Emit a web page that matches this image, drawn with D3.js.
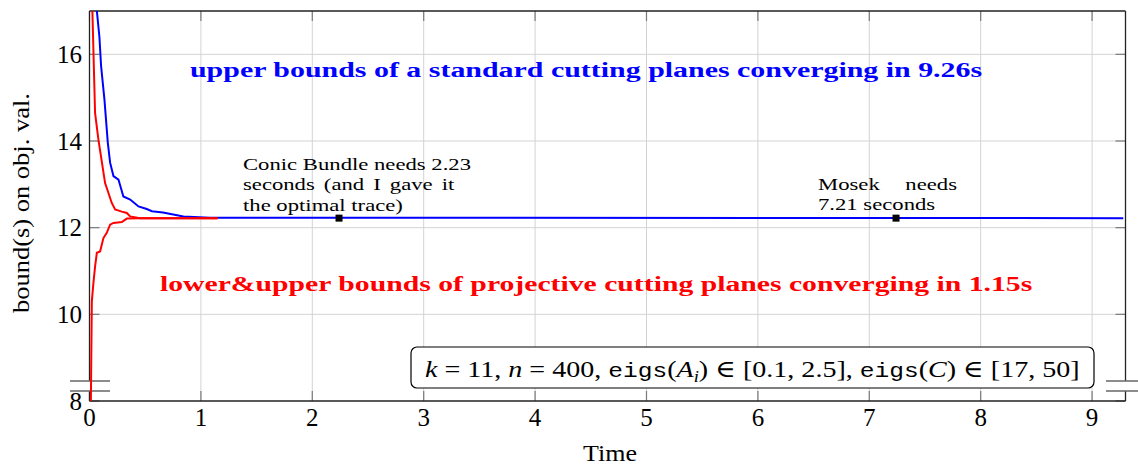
<!DOCTYPE html>
<html>
<head>
<meta charset="utf-8">
<script src="https://cdn.jsdelivr.net/npm/d3@7"></script>
<style>
  body { margin: 0; background: #fff; }
  svg { display: block; font-family: "Liberation Serif", "DejaVu Serif", serif; }
</style>
</head>
<body>
<svg id="chart" width="1138" height="467"></svg>
<script>
// values
const blueT = [0.055, 0.066, 0.089, 0.104, 0.134, 0.164, 0.185, 0.215, 0.26, 0.304, 0.365, 0.44, 0.514, 0.56, 0.66, 0.843, 1.08, 9.28];
const blueY = [17.3, 17.0, 16.4, 15.73, 14.96, 13.97, 13.5, 13.19, 13.11, 12.72, 12.65, 12.49, 12.43, 12.38, 12.35, 12.26, 12.23, 12.22];

const redUpT = [0.022, 0.026, 0.035, 0.05, 0.08, 0.11, 0.14, 0.17, 0.2, 0.23, 0.29, 0.335, 0.365, 0.454, 1.15];
const redUpY = [17.3, 17.0, 16.1, 14.65, 14.03, 13.53, 13.03, 12.8, 12.57, 12.42, 12.37, 12.34, 12.26, 12.22, 12.22];

const redLowT = [0.012, 0.014, 0.021, 0.035, 0.05, 0.066, 0.095, 0.125, 0.155, 0.185, 0.215, 0.29, 0.335, 0.454, 1.15];
const redLowY = [7.9, 8.46, 10.3, 10.72, 11.1, 11.42, 11.45, 11.76, 11.88, 12.07, 12.11, 12.13, 12.21, 12.22, 12.22];

const markT = [2.24, 7.24];
const markY = [12.22, 12.22];

const xTicks = [0, 1, 2, 3, 4, 5, 6, 7, 8, 9];
const yTicks = [8, 10, 12, 14, 16];

const svg = d3.select("#chart");
const pLeft = 89.5, pRight = 1125.5, pTop = 11, pBottom = 401;

const x = d3.scaleLinear().domain([0, 9.3]).range([pLeft, pRight]);
const y = d3.scaleLinear().domain([8, 17]).range([pBottom, pTop]);

// stretch a text element horizontally about its anchor point
function scaleAbout(t, s) {
  const x0 = +t.attr("x"), y0 = +t.attr("y");
  t.attr("transform", `translate(${x0},${y0}) scale(${s},1) translate(${-x0},${-y0})`);
}
function fitWidth(t, w) {
  scaleAbout(t, w / t.node().getBBox().width);
}

svg.append("defs").append("clipPath").attr("id", "plotclip")
  .append("rect").attr("x", pLeft).attr("y", pTop).attr("width", pRight - pLeft).attr("height", pBottom - pTop);

// grid
const grid = svg.append("g").attr("stroke", "#d3d3d3").attr("stroke-width", 1);
grid.selectAll("line.gx").data(xTicks.slice(1)).join("line")
  .attr("x1", d => x(d)).attr("x2", d => x(d)).attr("y1", pTop).attr("y2", pBottom);
grid.selectAll("line.gy").data(yTicks.slice(1)).join("line")
  .attr("y1", d => y(d)).attr("y2", d => y(d)).attr("x1", pLeft).attr("x2", pRight);

// inner tick marks on all sides
const ticks = svg.append("g").attr("stroke", "#7a7a7a").attr("stroke-width", 1.2);
const tl = 10;
xTicks.forEach(d => {
  ticks.append("line").attr("x1", x(d)).attr("x2", x(d)).attr("y1", pBottom).attr("y2", pBottom - tl);
  ticks.append("line").attr("x1", x(d)).attr("x2", x(d)).attr("y1", pTop).attr("y2", pTop + tl);
});
yTicks.forEach(d => {
  ticks.append("line").attr("y1", y(d)).attr("y2", y(d)).attr("x1", pLeft).attr("x2", pLeft + tl);
  ticks.append("line").attr("y1", y(d)).attr("y2", y(d)).attr("x1", pRight).attr("x2", pRight - tl);
});

// frame with axis breaks
const gapTop = 381, gapBot = 391;
const frame = svg.append("g").attr("stroke", "#222").attr("stroke-width", 1.3).attr("fill", "none");
frame.append("line").attr("x1", pLeft).attr("x2", pRight).attr("y1", pTop).attr("y2", pTop);
frame.append("line").attr("x1", pLeft).attr("x2", pRight).attr("y1", pBottom).attr("y2", pBottom);
frame.append("line").attr("x1", pLeft).attr("x2", pLeft).attr("y1", pTop).attr("y2", gapTop);
frame.append("line").attr("x1", pLeft).attr("x2", pLeft).attr("y1", gapBot).attr("y2", pBottom);
frame.append("line").attr("x1", pRight).attr("x2", pRight).attr("y1", pTop).attr("y2", gapTop);
frame.append("line").attr("x1", pRight).attr("x2", pRight).attr("y1", gapBot).attr("y2", pBottom);
const brk = svg.append("g").attr("stroke", "#666").attr("stroke-width", 1.5);
[gapTop, gapBot].forEach(v => {
  brk.append("line").attr("x1", 70).attr("x2", 110).attr("y1", v).attr("y2", v);
  brk.append("line").attr("x1", 1106).attr("x2", 1140).attr("y1", v).attr("y2", v);
});

// curves
const line = d3.line().x(d => x(d[0])).y(d => y(d[1]));
const curves = svg.append("g").attr("clip-path", "url(#plotclip)").attr("fill", "none").attr("stroke-width", 2);
curves.append("path").datum(d3.zip(blueT, blueY)).attr("d", line).attr("stroke", "#0000ff");
curves.append("path").datum(d3.zip(redUpT, redUpY)).attr("d", line).attr("stroke", "#ff0000");
curves.append("path").datum(d3.zip(redLowT, redLowY)).attr("d", line).attr("stroke", "#ff0000");

// markers
svg.append("g").selectAll("rect").data(d3.zip(markT, markY)).join("rect")
  .attr("x", d => x(d[0]) - 3.5).attr("y", d => y(d[1]) - 3.5)
  .attr("width", 7).attr("height", 7).attr("fill", "#000");

// tick labels
svg.append("g").selectAll("text").data(xTicks).join("text")
  .attr("x", d => x(d)).attr("y", 426).attr("text-anchor", "middle")
  .attr("font-size", 25).attr("fill", "#000").text(d => d);
svg.append("g").selectAll("text").data(yTicks).join("text")
  .attr("x", 82).attr("y", d => y(d) + 8.5).attr("text-anchor", "end")
  .attr("font-size", 25).attr("fill", "#000").text(d => d);

// axis titles
const xt = svg.append("text").attr("x", 583).attr("y", 461)
  .attr("font-size", 24).text("Time");
fitWidth(xt, 54);
const yt = svg.append("text").attr("x", 0).attr("y", 0).attr("font-size", 24).text("bound(s) on obj. val.");
const ytw = yt.node().getBBox().width;
yt.attr("transform", `translate(29,313) rotate(-90) scale(${220 / ytw},1)`);

// big coloured labels
const t1 = svg.append("text").attr("x", 190).attr("y", 77).attr("font-size", 22)
  .attr("font-weight", "bold").attr("fill", "#0000ff")
  .text("upper bounds of a standard cutting planes converging in 9.26s");
fitWidth(t1, 793);
const t2 = svg.append("text").attr("x", 160).attr("y", 291).attr("font-size", 22)
  .attr("font-weight", "bold").attr("fill", "#ff0000")
  .text("lower&upper bounds of projective cutting planes converging in 1.15s");
fitWidth(t2, 873);

// small annotations, justified like the LaTeX paragraphs
const small = svg.append("g").attr("font-size", 16.5).attr("fill", "#000");
const ref = small.append("text").attr("x", 243).attr("y", 211).text("the optimal trace)");
const sAnn = 160 / ref.node().getBBox().width;
scaleAbout(ref, sAnn);
function annLine(str, x0, y0, width) {
  const t = small.append("text").attr("x", x0).attr("y", y0).text(str);
  if (width) {
    const w0 = t.node().getBBox().width;
    const gaps = str.split(" ").length - 1;
    const extra = width / sAnn - w0;
    if (extra > 0 && gaps > 0) t.attr("word-spacing", extra / gaps);
  }
  scaleAbout(t, sAnn);
}
annLine("Conic Bundle needs 2.23", 243, 170, 212);
annLine("seconds (and I gave it", 243, 190.5, 212);
annLine("Mosek needs", 818, 190.5, 139);
annLine("7.21 seconds", 818, 210.5, null);

// parameter box
svg.append("rect").attr("x", 411).attr("y", 347).attr("width", 683).attr("height", 41)
  .attr("rx", 6).attr("fill", "#fff").attr("stroke", "#000").attr("stroke-width", 1.2);
const bt = svg.append("text").attr("x", 425).attr("y", 377).attr("font-size", 24).attr("fill", "#000");
const mono = "Liberation Mono, DejaVu Sans Mono, monospace";
bt.append("tspan").attr("font-style", "italic").text("k");
bt.append("tspan").text(" = 11,  ");
bt.append("tspan").attr("font-style", "italic").text("n");
bt.append("tspan").text(" = 400,  ");
bt.append("tspan").attr("font-family", mono).attr("font-size", 21).text("eigs");
bt.append("tspan").text("(");
bt.append("tspan").attr("font-style", "italic").text("A");
bt.append("tspan").attr("font-style", "italic").attr("font-size", 16).attr("dy", 5).text("i");
bt.append("tspan").attr("dy", -5).text(") \u2208 [0.1, 2.5],  ");
bt.append("tspan").attr("font-family", mono).attr("font-size", 21).text("eigs");
bt.append("tspan").text("(");
bt.append("tspan").attr("font-style", "italic").text("C");
bt.append("tspan").text(") \u2208 [17, 50]");
fitWidth(bt, 655);
</script>
</body>
</html>
